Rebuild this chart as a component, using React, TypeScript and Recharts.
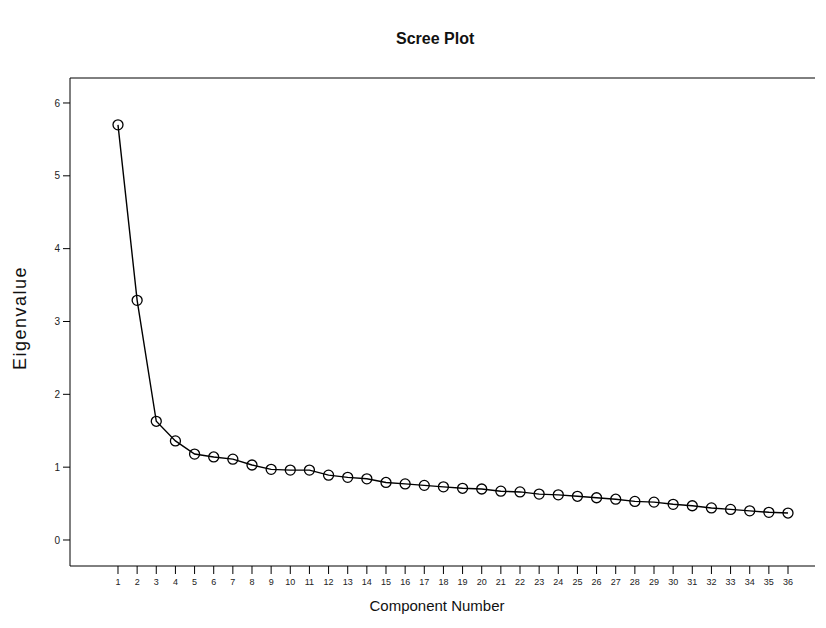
import { LineChart, Line, XAxis, YAxis, CartesianGrid } from "recharts";

const components = [
  1, 2, 3, 4, 5, 6, 7, 8, 9, 10, 11, 12, 13, 14, 15, 16, 17, 18,
  19, 20, 21, 22, 23, 24, 25, 26, 27, 28, 29, 30, 31, 32, 33, 34, 35, 36,
];
const eigenvalues = [
  5.7, 3.29, 1.63, 1.36, 1.18, 1.14, 1.11, 1.03, 0.97, 0.96, 0.96, 0.89,
  0.86, 0.84, 0.79, 0.77, 0.75, 0.73, 0.71, 0.7, 0.67, 0.66, 0.63, 0.62,
  0.6, 0.58, 0.56, 0.53, 0.52, 0.49, 0.47, 0.44, 0.42, 0.4, 0.38, 0.37,
];
const yTicks = [0, 1, 2, 3, 4, 5, 6];

const data = components.map((c, i) => ({ component: c, eigenvalue: eigenvalues[i] }));

const font = "'Liberation Sans', Arial, sans-serif";
const X_DOMAIN = [-1.507, 37.41];
const Y_DOMAIN = [-0.357, 6.343];

export default function App() {
  return (
    <div style={{ position: "absolute", left: 0, top: 0, width: 826, height: 628, fontFamily: font, background: "#fff" }}>
      <div style={{ position: "absolute", left: 396, top: 30, fontSize: 16, fontWeight: "bold", color: "#111", whiteSpace: "nowrap" }}>
        Scree Plot
      </div>
      <div
        style={{
          position: "absolute", left: 20, top: 318, fontSize: 18, letterSpacing: 1.5, color: "#111",
          whiteSpace: "nowrap", transform: "translate(-50%, -50%) rotate(-90deg)",
        }}
      >
        Eigenvalue
      </div>
      <div
        style={{
          position: "absolute", left: 437, top: 605, fontSize: 15, color: "#111",
          whiteSpace: "nowrap", transform: "translate(-50%, -50%)",
        }}
      >
        Component Number
      </div>
      <LineChart width={826} height={628} data={data} margin={{ top: 78, right: 11, left: 0, bottom: 0 }}>
        {/* top frame line */}
        <CartesianGrid
          vertical={false}
          horizontalCoordinatesGenerator={({ offset }: any) => [offset.top]}
          stroke="#000"
          strokeDasharray=""
        />
        <XAxis
          dataKey="component"
          type="number"
          domain={X_DOMAIN}
          ticks={components}
          interval={0}
          height={62}
          tickSize={8}
          tickMargin={5}
          axisLine={{ stroke: "#000" }}
          tickLine={{ stroke: "#000" }}
          tick={{ fontSize: 9, fill: "#222", fontFamily: font }}
        />
        <YAxis
          type="number"
          domain={Y_DOMAIN}
          ticks={yTicks}
          width={70}
          tickSize={7}
          tickMargin={3}
          axisLine={{ stroke: "#000" }}
          tickLine={{ stroke: "#000" }}
          tick={{ fontSize: 10, fill: "#222", fontFamily: font }}
        />
        <Line
          dataKey="eigenvalue"
          stroke="#000"
          strokeWidth={1.4}
          dot={{ r: 5, stroke: "#000", strokeWidth: 1.3, fill: "none" }}
          activeDot={false}
          isAnimationActive={false}
        />
      </LineChart>
    </div>
  );
}
